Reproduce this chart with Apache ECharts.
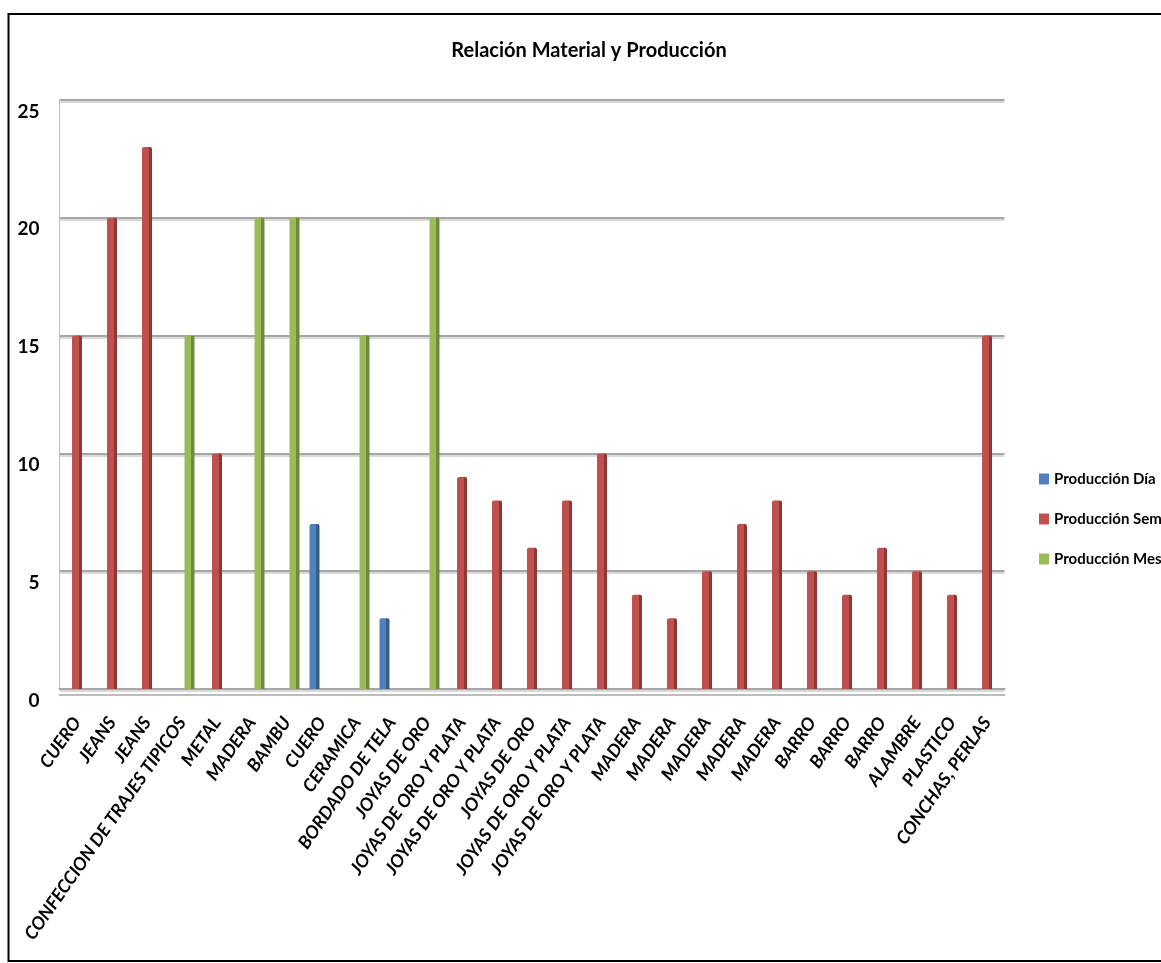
<!DOCTYPE html>
<html><head><meta charset="utf-8">
<script src="https://cdn.jsdelivr.net/npm/echarts@6/dist/echarts.min.js"></script>
<style>html,body{margin:0;padding:0;background:#fff}#c{width:1161px;height:963px}</style>
</head><body><div id="c"></div>
<script>
const categories = ['CUERO','JEANS','JEANS','CONFECCION DE TRAJES TIPICOS','METAL','MADERA','BAMBU','CUERO','CERAMICA','BORDADO DE TELA','JOYAS DE ORO','JOYAS DE ORO Y PLATA','JOYAS DE ORO Y PLATA','JOYAS DE ORO','JOYAS DE ORO Y PLATA','JOYAS DE ORO Y PLATA','MADERA','MADERA','MADERA','MADERA','MADERA','BARRO','BARRO','BARRO','ALAMBRE','PLASTICO','CONCHAS, PERLAS'];
const produccionDia = [null,null,null,null,null,null,null,7,null,3,null,null,null,null,null,null,null,null,null,null,null,null,null,null,null,null,null];
const produccionSem = [15,20,23,null,10,null,null,null,null,null,null,9,8,6,8,10,4,3,5,7,8,5,4,6,5,4,15];
const produccionMes = [null,null,null,15,null,20,20,null,15,null,20,null,null,null,null,null,null,null,null,null,null,null,null,null,null,null,null];
const seriesNames = ['Producción Día','Producción Sem','Producción Mes'];
const yTicks = [0,5,10,15,20,25];
const title = 'Relación Material y Producción';

const F = 'Lato,"DejaVu Sans Condensed",sans-serif';
const mains = ['#4F81BD','#C0504D','#9BBB59'];
const darks = ['#385D8A','#8C3836','#71893F'];
function face(main, dark){
  return {type:'linear',x:0,y:0,x2:1,y2:0,colorStops:[
    {offset:0,color:main},{offset:0.68,color:main},{offset:0.68,color:dark},{offset:1,color:dark}]};
}
const chart = echarts.init(document.getElementById('c'));
const seriesData = [produccionDia, produccionSem, produccionMes];
chart.setOption({
  animation:false,
  backgroundColor:'#fff',
  title:{text:title,left:584,top:36,textAlign:'center',
    textStyle:{fontFamily:F,fontWeight:'bold',fontSize:20,color:'#000'}},
  legend:{orient:'vertical',left:1034,top:464,itemWidth:10,itemHeight:11,itemGap:20,
    textStyle:{fontFamily:F,fontWeight:'bold',fontSize:15,color:'#000',lineHeight:20},
    data:seriesNames.map((n,i)=>({name:n,icon:'rect',itemStyle:{color:mains[i]}}))},
  grid:{left:59.5,right:156.5,top:100,bottom:274,containLabel:false},
  xAxis:{type:'category',data:categories,
    axisTick:{show:false},
    axisLine:{show:true,lineStyle:{color:'#A6A6A6',width:2,shadowColor:'#BDBDBD',shadowOffsetY:6,shadowBlur:0}},
    axisLabel:{interval:0,rotate:55,margin:30,fontFamily:F,fontWeight:'bold',fontStyle:'italic',fontSize:18,color:'#000'}},
  yAxis:{type:'value',min:yTicks[0],max:yTicks[yTicks.length-1],interval:yTicks[1]-yTicks[0],
    axisLine:{show:true,lineStyle:{color:'#BFBFBF',width:1}},
    axisTick:{show:false},
    splitLine:{lineStyle:{color:'#A6A6A6',width:2,shadowColor:'#D9D9D9',shadowOffsetY:2,shadowBlur:0}},
    axisLabel:{margin:20,fontFamily:F,fontWeight:'bold',fontSize:19,color:'#000',verticalAlign:'top',padding:[2,0,0,0]}},
  graphic:[{type:'rect',shape:{x:8.5,y:14,width:1200,height:947},
    style:{fill:'none',stroke:'#000',lineWidth:2},z:100}],
  series:seriesNames.map((n,i)=>({type:'bar',name:n,data:seriesData[i],barWidth:10,barGap:'-25%',
    color:mains[i],itemStyle:{borderRadius:[2,2,0,0],color:face(mains[i],darks[i])}}))
});
</script></body></html>
